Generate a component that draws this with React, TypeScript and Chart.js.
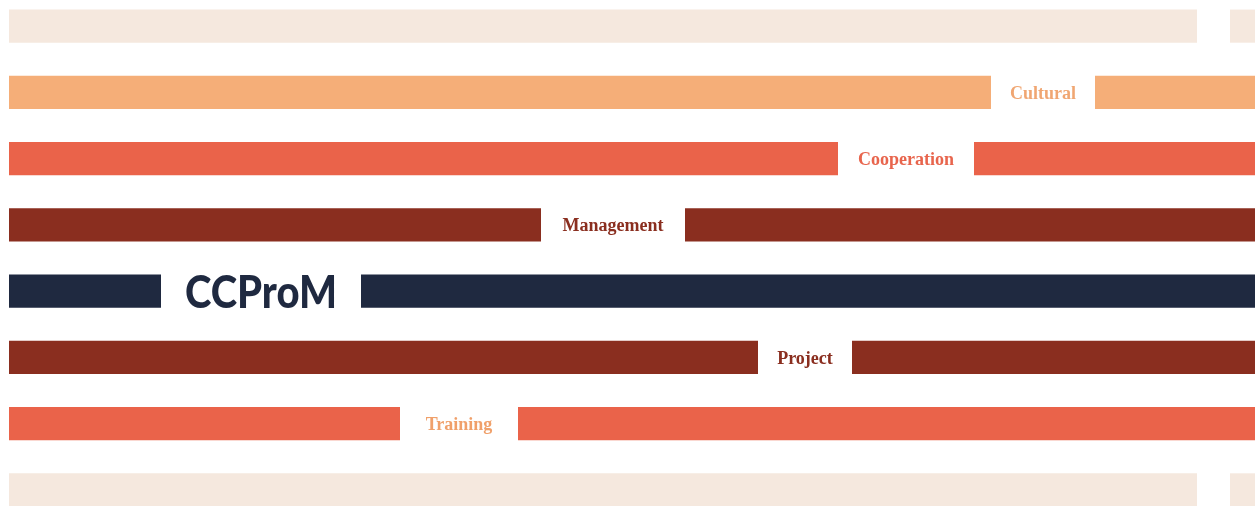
import React, { useEffect, useRef } from "react";
import { Chart, registerables } from "chart.js";

Chart.register(...registerables);

const rows = ["r0", "r1", "r2", "r3", "r4", "r5", "r6", "r7"];
const barStart = 9;
const barEnd = 1255;
const leftEnd = [1197, 991, 838, 541, 161, 758, 400, 1197];
const rightStart = [1230, 1095, 974, 685, 361, 852, 518, 1230];
const barColors = ["#F5E8DE", "#F5AE78", "#EA634A", "#8A2E1F", "#1F2940", "#8A2E1F", "#EA634A", "#F5E8DE"];
const labels = ["", "Cultural", "Cooperation", "Management", "CCProM", "Project", "Training", ""];
const labelColors = ["", "#F0A672", "#E8654D", "#8A2E1F", "#1F2940", "#8A2E1F", "#F0A06A", ""];

const labelPlugin = {
  id: "gapLabels",
  afterDatasetsDraw(chart: any) {
    const { ctx, scales } = chart;
    const xs = scales.x;
    const ys = scales.y;
    ctx.save();
    labels.forEach((text, i) => {
      if (!text) return;
      const cx = xs.getPixelForValue((leftEnd[i] + rightStart[i]) / 2);
      const cy = ys.getPixelForValue(i);
      ctx.fillStyle = labelColors[i];
      ctx.textAlign = "center";
      ctx.textBaseline = "alphabetic";
      if (text === "CCProM") {
        ctx.font = "900 46px Lato";
        const cap = ctx.measureText("H").actualBoundingBoxAscent;
        const w = ctx.measureText(text).width;
        const target = 152;
        ctx.save();
        ctx.translate(cx, cy + cap / 2);
        ctx.scale(target / w, 1);
        ctx.fillText(text, 0, 0);
        ctx.restore();
      } else {
        ctx.font = "bold 18px 'Liberation Serif'";
        const cap = ctx.measureText("H").actualBoundingBoxAscent;
        ctx.fillText(text, cx, cy + cap / 2);
      }
    });
    ctx.restore();
  },
};

export default function App() {
  const ref = useRef<HTMLCanvasElement>(null);
  useEffect(() => {
    if (!ref.current) return;
    const chart = new Chart(ref.current, {
      type: "bar",
      data: {
        labels: rows,
        datasets: [
          {
            data: leftEnd.map((e) => [barStart, e]) as any,
            backgroundColor: barColors,
            borderWidth: 0,
            grouped: false,
            categoryPercentage: 1,
            barPercentage: 0.5,
          } as any,
          {
            data: rightStart.map((s) => [s, barEnd]) as any,
            backgroundColor: barColors,
            borderWidth: 0,
            grouped: false,
            categoryPercentage: 1,
            barPercentage: 0.5,
          } as any,
        ],
      },
      options: {
        indexAxis: "y",
        animation: false,
        responsive: false,
        layout: { padding: 0 },
        scales: {
          x: { type: "linear", min: 0, max: 1255, display: false },
          y: { display: false },
        },
        plugins: {
          legend: { display: false },
          tooltip: { enabled: false },
        },
      },
      plugins: [labelPlugin],
    });
    return () => chart.destroy();
  }, []);
  return (
    <div style={{ position: "fixed", left: 0, top: -7, width: 1255, height: 530, background: "#ffffff" }}>
      <canvas ref={ref} width={1255} height={530} style={{ width: 1255, height: 530 }} />
    </div>
  );
}
